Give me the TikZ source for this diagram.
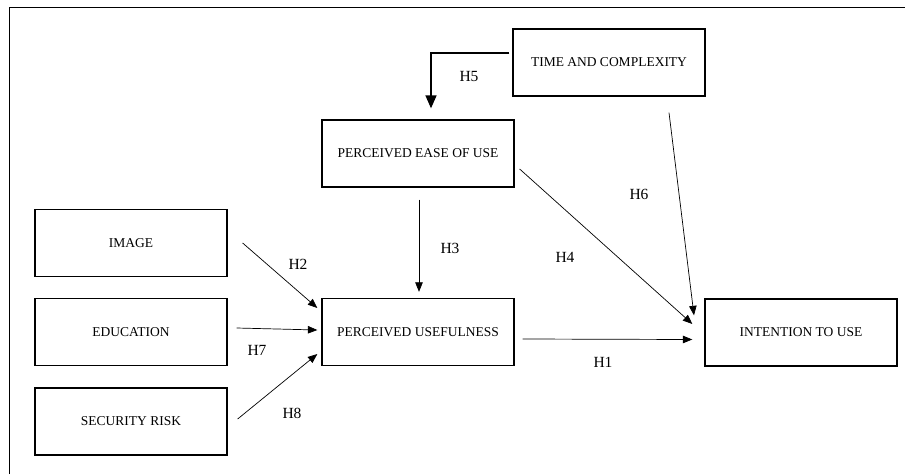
\documentclass[tikz,border=0pt]{standalone}
\usepackage{fontspec}
\setmainfont{Liberation Serif}
\usetikzlibrary{arrows.meta}
\begin{document}
\begin{tikzpicture}[x=1pt,y=-1pt,
  box/.style={draw, line width=1.3pt, minimum width=192pt, minimum height=67pt, inner sep=0pt, font=\fontsize{13.5}{15}\selectfont},
  lbl/.style={font=\fontsize{15.5}{17}\selectfont, inner sep=0pt},
  conn/.style={line width=0.7pt, -{Triangle[length=9.5pt,width=7.5pt]}},
  bigconn/.style={line width=1.4pt, -{Triangle[length=13pt,width=11pt]}}]
\useasboundingbox (0,0) rectangle (905,474);
\draw[line width=1pt] (9,474) -- (9,7) -- (905,7);
\node[box] (time) at (609,62.5) {TIME AND COMPLEXITY};
\node[box] (peou) at (418,153.5) {PERCEIVED EASE OF USE};
\node[box] (img) at (131,243) {IMAGE};
\node[box] (edu) at (131,332) {EDUCATION};
\node[box] (sec) at (131,421.5) {SECURITY RISK};
\node[box] (pu) at (418,332) {PERCEIVED USEFULNESS};
\node[box] (itu) at (801,332.5) {INTENTION TO USE};
% connectors
\draw[bigconn] ([xshift=-3pt,yshift=9.5pt]time.west) -| ([xshift=13pt,yshift=11pt]peou.north);
\draw[conn] ([xshift=60pt,yshift=-16pt]time.south) -- ([xshift=-107pt,yshift=-17pt]itu.north);
\draw[conn] ([xshift=5pt,yshift=-15.5pt]peou.east) -- ([xshift=-12pt,yshift=8.5pt]itu.west);
\draw[conn] ([xshift=1pt,yshift=-12pt]peou.south) -- ([xshift=1pt,yshift=6pt]pu.north);
\draw[conn] ([xshift=8pt,yshift=-7pt]pu.east) -- ([xshift=-12pt,yshift=-7pt]itu.west);
\draw[conn] ([xshift=15pt]img.east) -- ([xshift=-4pt,yshift=24pt]pu.west);
\draw[conn] ([xshift=9pt,yshift=4pt]edu.east) -- ([xshift=-4pt,yshift=2pt]pu.west);
\draw[conn] ([xshift=10pt,yshift=2.5pt]sec.east) -- ([xshift=-4pt,yshift=-22pt]pu.west);
% labels
\node[lbl] (l5) at (469,76) {H5};
\node[lbl] (l6) at (639,194) {H6};
\node[lbl] (l4) at (565,257) {H4};
\node[lbl] (l3) at (450,248) {H3};
\node[lbl] (l1) at (603,362) {H1};
\node[lbl] (l2) at (298,264) {H2};
\node[lbl] (l7) at (257,350) {H7};
\node[lbl] (l8) at (292,413) {H8};
\end{tikzpicture}
\end{document}
